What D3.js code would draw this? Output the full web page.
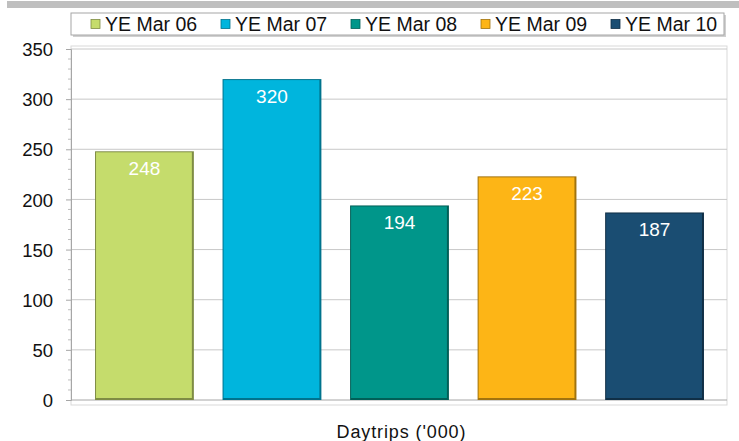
<!DOCTYPE html>
<html>
<head>
<meta charset="utf-8">
<script src="https://cdn.jsdelivr.net/npm/d3@7"></script>
<style>
  body { margin: 0; background: #fff; }
  svg { font-family: "Liberation Sans", Arial, sans-serif; }
</style>
</head>
<body>
<svg id="chart" width="739" height="441"></svg>
<script>
// chart data
const periods = ['YE Mar 06', 'YE Mar 07', 'YE Mar 08', 'YE Mar 09', 'YE Mar 10']
const daytrips = [248, 320, 194, 223, 187]
const barColors = ['#C5DC6C', '#00B5DD', '#00968A', '#FDB516', '#1A4D72']
const edgeColors = ['#7E8C44', '#00738D', '#005F57', '#A1730E', '#102F46']
const yTicks = [0, 50, 100, 150, 200, 250, 300, 350]

const svg = d3.select('#chart')
const plotLeft = 71, plotRight = 727, plotTop = 49, plotBottom = 400

// grey strip at the very top
svg.append('rect').attr('x', 7).attr('y', 1).attr('width', 732).attr('height', 7).attr('fill', '#BFBFBF')

const y = d3.scaleLinear().domain([0, 350]).range([plotBottom, plotTop])
const x = d3.scaleBand().domain(periods).range([81, 718]).paddingInner(0.225).paddingOuter(0.11)

// plot area frame
svg.append('rect')
    .attr('x', plotLeft).attr('y', plotTop - 3)
    .attr('width', plotRight - plotLeft).attr('height', plotBottom - plotTop + 8)
    .attr('fill', 'none').attr('stroke', '#D9D9D9')

// gridlines
svg.append('g').selectAll('line')
    .data(yTicks.slice(1))
    .enter().append('line')
    .attr('x1', plotLeft).attr('x2', plotRight)
    .attr('y1', d => y(d)).attr('y2', d => y(d))
    .attr('stroke', '#C8C8C8')

// y axis with minor ticks
const yAxis = d3.axisLeft(y).tickValues(yTicks).tickSize(5).tickPadding(13)
const yG = svg.append('g').attr('transform', `translate(${plotLeft},0)`).call(yAxis)
yG.select('.domain').attr('stroke', '#A6A6A6')
yG.selectAll('.tick line').attr('stroke', '#A6A6A6')
yG.selectAll('text').attr('font-size', 18.5).attr('fill', '#111').attr('dy', '0.36em')

const minor = d3.range(0, 351, 10).filter(v => v % 50 !== 0)
svg.append('g').selectAll('line')
    .data(minor)
    .enter().append('line')
    .attr('x1', plotLeft - 3).attr('x2', plotLeft)
    .attr('y1', d => y(d)).attr('y2', d => y(d))
    .attr('stroke', '#BDBDBD')

// x axis line
svg.append('line')
    .attr('x1', plotLeft).attr('x2', plotRight)
    .attr('y1', plotBottom).attr('y2', plotBottom)
    .attr('stroke', '#A6A6A6')

// bars with a simple bevel
const bars = svg.append('g').selectAll('g')
    .data(daytrips)
    .enter().append('g')

bars.append('rect')
    .attr('x', (d, i) => x(periods[i]))
    .attr('y', d => y(d))
    .attr('width', x.bandwidth())
    .attr('height', d => plotBottom - y(d))
    .attr('fill', (d, i) => edgeColors[i])

bars.append('rect')
    .attr('x', (d, i) => x(periods[i]) + 1)
    .attr('y', d => y(d) + 1)
    .attr('width', x.bandwidth() - 3)
    .attr('height', d => plotBottom - y(d) - 3)
    .attr('fill', (d, i) => barColors[i])

bars.append('text')
    .attr('x', (d, i) => x(periods[i]) + x.bandwidth() / 2)
    .attr('y', d => y(d) + 24)
    .attr('text-anchor', 'middle')
    .attr('font-size', 19)
    .attr('fill', '#fff')
    .text(d => d)

// x axis title
svg.append('text')
    .attr('x', 401).attr('y', 437.5)
    .attr('text-anchor', 'middle')
    .attr('font-size', 18)
    .attr('fill', '#111')
    .attr('textLength', 129)
    .text("Daytrips ('000)")

// legend
const legend = svg.append('g')
legend.append('rect')
    .attr('x', 73).attr('y', 15).attr('width', 653).attr('height', 22)
    .attr('fill', '#D0D0D0')
legend.append('rect')
    .attr('x', 71).attr('y', 13).attr('width', 653).attr('height', 22)
    .attr('fill', '#fff').attr('stroke', '#A6A6A6')

const legendX = [91, 221, 351, 481, 611]
const items = legend.selectAll('.item')
    .data(periods)
    .enter().append('g')
    .attr('class', 'item')
    .attr('transform', (d, i) => `translate(${legendX[i]},24)`)

items.append('rect')
    .attr('x', 0).attr('y', -4.5).attr('width', 9).attr('height', 9)
    .attr('fill', (d, i) => barColors[i])
    .attr('stroke', (d, i) => edgeColors[i]).attr('stroke-width', 0.8)

items.append('text')
    .attr('x', 14).attr('y', 7)
    .attr('font-size', 19.5)
    .attr('fill', '#111')
    .text(d => d)
</script>
</body>
</html>
